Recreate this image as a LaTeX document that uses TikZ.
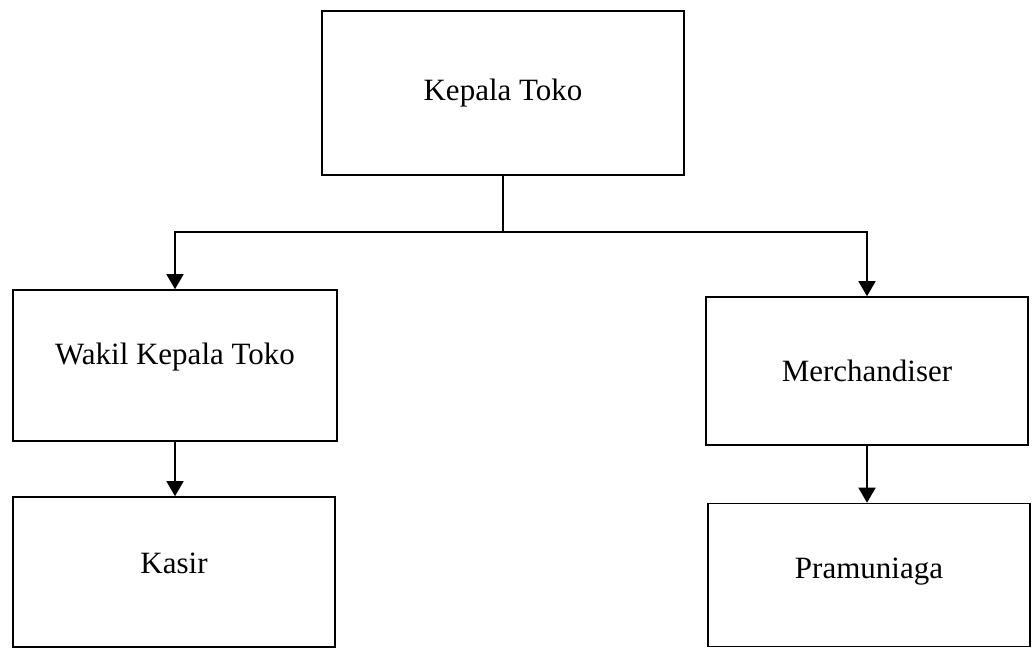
\documentclass[tikz,border=0pt]{standalone}
\usepackage{fontspec}
\setmainfont{Liberation Serif}
\usetikzlibrary{arrows.meta}

\newcommand{\naik}[2]{\raisebox{#1}[\height][\depth]{#2}}

\tikzset{
  jabatan/.style={draw,line width=1.6pt,inner sep=0pt,font=\fontsize{31}{36}\selectfont},
  panah/.style={line width=1.6pt,-{Triangle[width=17pt,length=15pt]}}
}

\begin{document}
\begin{tikzpicture}[x=1pt,y=-1pt]
    \useasboundingbox (0,0) rectangle (1032,648); % page size
    % boxes of the structure
    \node[jabatan,minimum width=362pt,minimum height=164pt] (kepala) at (503,93) {Kepala Toko};
    \node[jabatan,minimum width=324pt,minimum height=151pt] (wakil) at (175,365.5) {\naik{8pt}{Wakil Kepala Toko}};
    \node[jabatan,minimum width=322pt,minimum height=148pt] (merch) at (867,371) {Merchandiser};
    \node[jabatan,minimum width=322pt,minimum height=150pt] (kasir) at (174,572) {\naik{9pt}{Kasir}};
    \node[jabatan,minimum width=322pt,minimum height=143pt] (pramu) at (869,575) {\naik{3pt}{Pramuniaga}};

    % lines between them
    \draw[line width=1.6pt] (kepala.south) -- ++(0,56) coordinate (cabang);
    \draw[panah] (cabang) -| (wakil.north);
    \draw[panah] (cabang) -| (merch.north);
    \draw[panah] (wakil.south) -- (wakil.south |- kasir.north);
    \draw[panah] (merch.south) -- (merch.south |- pramu.north);
\end{tikzpicture}
\end{document}
